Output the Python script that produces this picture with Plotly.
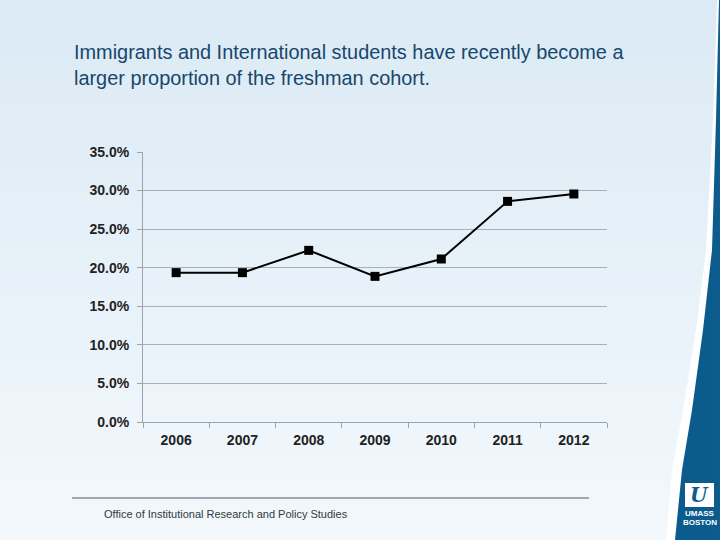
import plotly.graph_objects as go

years = ["2006", "2007", "2008", "2009", "2010", "2011", "2012"]
share = [0.1936, 0.1936, 0.2225, 0.1888, 0.2113, 0.2860, 0.2956]
y_ticks = [0.0, 0.05, 0.10, 0.15, 0.20, 0.25, 0.30, 0.35]

title_text = ("Immigrants and International students have recently become a<br>"
              "larger proportion of the freshman cohort.")
footer_text = "Office of Institutional Research and Policy Studies"

W, H = 720, 540
L, R, T, B = 143, 113, 152, 118
fig = go.Figure()

fig.add_trace(go.Scatter(
    x=years, y=share, mode="lines+markers",
    line=dict(color="#000000", width=2),
    marker=dict(symbol="square", size=9, color="#000000"),
    showlegend=False, hoverinfo="x+y",
))


def px(x, y):
    # convert pixel coords to paper coords
    pw = W - L - R
    ph = H - T - B
    return (x - L) / pw, (H - B - y) / ph


def path(points):
    s = ""
    for i, (x, y) in enumerate(points):
        X, Y = px(x, y)
        s += ("M" if i == 0 else "L") + " %.4f %.4f " % (X, Y)
    return s + "Z"


shapes = []
# background vertical gradient
top = (219, 234, 245)
bot = (243, 248, 252)
n = 54
step = H / n
for i in range(n):
    t = i / (n - 1)
    c = tuple(round(top[k] + (bot[k] - top[k]) * t) for k in range(3))
    xa, ya = px(0, i * step - 0.5)
    xb, yb = px(W, (i + 1) * step + 0.5)
    shapes.append(dict(type="rect", xref="paper", yref="paper",
                       x0=xa, x1=xb, y0=yb, y1=ya,
                       fillcolor="rgb(%d,%d,%d)" % c, line=dict(width=0),
                       layer="below"))

white_band = [(717, 0), (720, 0), (720, 540), (666, 540), (672, 470), (683, 410),
              (696, 330), (706, 250), (713, 120)]
blue_band = [(719, 0), (720, 0), (720, 540), (675, 540), (682, 470), (692, 410),
             (703, 330), (712, 250), (716, 120)]
shapes.append(dict(type="path", xref="paper", yref="paper", path=path(white_band),
                   fillcolor="#ffffff", line=dict(width=0), layer="below"))
shapes.append(dict(type="path", xref="paper", yref="paper", path=path(blue_band),
                   fillcolor="#0b5b8d", line=dict(width=0), layer="below"))
# logo box
x0, y0 = px(685, 483)
x1, y1 = px(714, 507)
shapes.append(dict(type="rect", xref="paper", yref="paper", x0=x0, y0=y1, x1=x1, y1=y0,
                   fillcolor="#ffffff", line=dict(width=0)))
# footer rule
fx0, fy = px(72, 498)
fx1, _ = px(589, 498)
shapes.append(dict(type="line", xref="paper", yref="paper", x0=fx0, x1=fx1, y0=fy, y1=fy,
                   line=dict(color="#4a5a66", width=1)))

annotations = []
tx, ty = px(72, 39)
annotations.append(dict(text=title_text, xref="paper", yref="paper", x=tx, y=ty,
                        xanchor="left", yanchor="top", showarrow=False, align="left",
                        font=dict(family="Liberation Sans, Arial", size=19.9, color="#17476b")))
ftx, fty = px(102, 514)
annotations.append(dict(text=footer_text, xref="paper", yref="paper", x=ftx, y=fty,
                        xanchor="left", yanchor="middle", showarrow=False,
                        font=dict(family="Liberation Sans, Arial", size=11, color="#2f3a40")))
lx, ly = px(699.5, 495)
annotations.append(dict(text="<i><b>U</b></i>", xref="paper", yref="paper", x=lx, y=ly,
                        xanchor="center", yanchor="middle", showarrow=False,
                        font=dict(family="DejaVu Serif", size=20, color="#0b5b8d")))
ux, uy = px(699.5, 513)
annotations.append(dict(text="<b>UMASS</b>", xref="paper", yref="paper", x=ux, y=uy,
                        xanchor="center", yanchor="middle", showarrow=False,
                        font=dict(family="Liberation Sans, Arial", size=8, color="#ffffff")))
bx, by = px(699.5, 522)
annotations.append(dict(text="<b>BOSTON</b>", xref="paper", yref="paper", x=bx, y=by,
                        xanchor="center", yanchor="middle", showarrow=False,
                        font=dict(family="Liberation Sans, Arial", size=8, color="#ffffff")))

fig.update_layout(
    width=W, height=H,
    margin=dict(l=L, r=R, t=T, b=B),
    paper_bgcolor="#e6f1f9", plot_bgcolor="rgba(0,0,0,0)",
    shapes=shapes, annotations=annotations,
    font=dict(family="Liberation Sans, Arial", color="#222222"),
)
fig.update_xaxes(
    type="category", range=[-0.5, 6.5], showgrid=False,
    showline=True, linecolor="#9aa4aa", linewidth=1,
    ticks="outside", tickson="boundaries", ticklen=5, tickcolor="#9aa4aa",
    tickfont=dict(size=14, color="#222222", family="Liberation Sans, Arial", weight="bold"),
    ticklabelstandoff=5, zeroline=False,
)
fig.update_yaxes(
    range=[0, 0.35], tickvals=y_ticks, tickformat=".1%",
    showgrid=True, gridcolor="#a7b0b6", gridwidth=1,
    showline=True, linecolor="#9aa4aa", linewidth=1,
    ticks="outside", ticklen=5, tickcolor="#9aa4aa",
    tickfont=dict(size=14, color="#222222", family="Liberation Sans, Arial", weight="bold"),
    ticklabelstandoff=5, zeroline=False,
)

fig.write_html("out.html", config={"displayModeBar": False},
               post_script="document.body.style.margin='0';")
